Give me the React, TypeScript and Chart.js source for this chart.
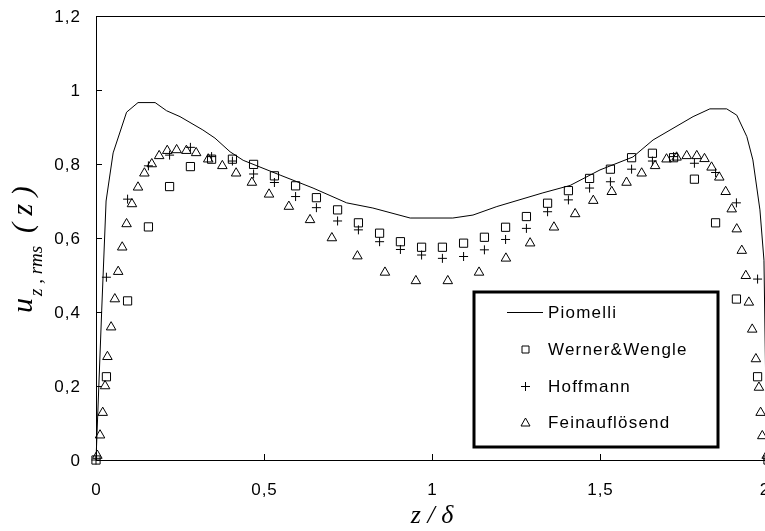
import React, { useEffect, useRef } from "react";
import { Chart, registerables } from "chart.js";

Chart.register(...registerables);

// ---- Data ----
const piomelliZ = [0, 0.017, 0.03, 0.051, 0.091, 0.125, 0.176, 0.21, 0.25, 0.318, 0.354, 0.399, 0.438, 0.548, 0.646, 0.746, 0.824, 0.935, 1.062, 1.122, 1.193, 1.33, 1.411, 1.5, 1.598, 1.658, 1.777, 1.827, 1.877, 1.907, 1.937, 1.955, 1.976, 1.988, 1.994, 2];
const piomelliU = [0, 0.405, 0.7, 0.83, 0.94, 0.966, 0.966, 0.944, 0.928, 0.892, 0.87, 0.833, 0.81, 0.77, 0.735, 0.695, 0.681, 0.654, 0.654, 0.662, 0.685, 0.722, 0.742, 0.784, 0.819, 0.865, 0.928, 0.949, 0.949, 0.932, 0.874, 0.811, 0.676, 0.54, 0.16, 0];

const wernerZ = [0, 0.031, 0.094, 0.156, 0.219, 0.281, 0.344, 0.406, 0.469, 0.531, 0.594, 0.656, 0.719, 0.781, 0.844, 0.906, 0.969, 1.031, 1.094, 1.156, 1.219, 1.281, 1.344, 1.406, 1.469, 1.531, 1.594, 1.656, 1.719, 1.781, 1.844, 1.906, 1.969, 2];
const wernerU = [0, 0.225, 0.43, 0.63, 0.739, 0.793, 0.813, 0.813, 0.799, 0.768, 0.741, 0.709, 0.676, 0.641, 0.613, 0.59, 0.575, 0.575, 0.586, 0.602, 0.629, 0.658, 0.694, 0.728, 0.761, 0.786, 0.817, 0.829, 0.817, 0.759, 0.641, 0.435, 0.225, 0];

const hoffmannZ = [0, 0.031, 0.094, 0.156, 0.219, 0.281, 0.344, 0.406, 0.469, 0.531, 0.594, 0.656, 0.719, 0.781, 0.844, 0.906, 0.969, 1.031, 1.094, 1.156, 1.219, 1.281, 1.344, 1.406, 1.469, 1.531, 1.594, 1.656, 1.719, 1.781, 1.844, 1.906, 1.969, 2];
const hoffmannU = [0, 0.494, 0.705, 0.795, 0.824, 0.845, 0.82, 0.808, 0.773, 0.75, 0.712, 0.682, 0.646, 0.622, 0.59, 0.569, 0.554, 0.545, 0.55, 0.568, 0.596, 0.626, 0.671, 0.703, 0.735, 0.752, 0.786, 0.808, 0.82, 0.802, 0.777, 0.695, 0.489, 0];

const feinZ = [0.004, 0.012, 0.02, 0.027, 0.034, 0.045, 0.056, 0.066, 0.078, 0.091, 0.107, 0.125, 0.144, 0.166, 0.188, 0.212, 0.24, 0.269, 0.298, 0.334, 0.376, 0.417, 0.464, 0.515, 0.574, 0.637, 0.702, 0.778, 0.86, 0.952, 1.047, 1.14, 1.22, 1.292, 1.363, 1.426, 1.48, 1.535, 1.579, 1.624, 1.664, 1.698, 1.728, 1.758, 1.788, 1.811, 1.832, 1.855, 1.874, 1.892, 1.907, 1.922, 1.934, 1.943, 1.953, 1.964, 1.973, 1.978, 1.983, 1.996];
const feinU = [0.012, 0.067, 0.128, 0.2, 0.279, 0.359, 0.435, 0.509, 0.575, 0.638, 0.692, 0.737, 0.775, 0.8, 0.822, 0.836, 0.838, 0.836, 0.83, 0.813, 0.795, 0.775, 0.75, 0.718, 0.685, 0.649, 0.6, 0.551, 0.507, 0.484, 0.484, 0.507, 0.545, 0.586, 0.629, 0.665, 0.701, 0.725, 0.75, 0.775, 0.795, 0.813, 0.818, 0.822, 0.822, 0.814, 0.791, 0.764, 0.725, 0.678, 0.624, 0.566, 0.498, 0.426, 0.353, 0.273, 0.196, 0.128, 0.065, 0.012];

const seriesNames = ["Piomelli", "Werner&Wengle", "Hoffmann", "Feinauflösend"];
const xTicks = [0, 0.5, 1, 1.5, 2];
const yTicks = [0, 0.2, 0.4, 0.6, 0.8, 1, 1.2];

const fmt = (v: number) => String(Number(v.toFixed(2))).replace(".", ",");
const pts = (zs: number[], us: number[]) => zs.map((z, i) => ({ x: z, y: us[i] }));

const SANS = "'Liberation Sans', Arial, sans-serif";
const SERIF = "'Liberation Serif', 'Times New Roman', serif";

const decorPlugin = {
  id: "decor",
  afterDraw(chart: any) {
    const ctx = chart.ctx as CanvasRenderingContext2D;
    const { left, right, top, bottom } = chart.chartArea;
    const xs = chart.scales.x;
    const ys = chart.scales.y;
    ctx.save();
    // frame
    ctx.strokeStyle = "#000";
    ctx.lineWidth = 1;
    ctx.strokeRect(Math.round(left) + 0.5, Math.round(top) + 0.5, Math.round(right - left), Math.round(bottom - top));
    // inner ticks
    ctx.beginPath();
    for (const v of yTicks) {
      const y = Math.round(ys.getPixelForValue(v)) + 0.5;
      ctx.moveTo(left, y);
      ctx.lineTo(left + 6, y);
    }
    for (const v of xTicks) {
      const x = Math.round(xs.getPixelForValue(v)) + 0.5;
      ctx.moveTo(x, bottom);
      ctx.lineTo(x, bottom - 6);
    }
    ctx.stroke();

    // tick labels
    ctx.fillStyle = "#000";
    ctx.font = `17px ${SANS}`;
    (ctx as any).letterSpacing = "1px";
    ctx.textBaseline = "middle";
    ctx.textAlign = "right";
    for (const v of yTicks) {
      ctx.fillText(fmt(v), 81, ys.getPixelForValue(v) + 1);
    }
    ctx.textAlign = "center";
    for (const v of xTicks) {
      const px = Math.min(xs.getPixelForValue(v) + 0.5, 765);
      ctx.fillText(fmt(v), px, 490);
    }
    (ctx as any).letterSpacing = "0px";

    // x title
    ctx.font = `italic 26px ${SERIF}`;
    ctx.textAlign = "center";
    ctx.textBaseline = "alphabetic";
    ctx.fillText("z / \u03B4", (left + right) / 2, 523);

    // y title (rotated)
    ctx.save();
    ctx.translate(32, 313);
    ctx.rotate(-Math.PI / 2);
    ctx.textAlign = "left";
    ctx.textBaseline = "alphabetic";
    ctx.font = `italic 30px ${SERIF}`;
    ctx.fillText("u", 0, 0);
    const uw = ctx.measureText("u").width;
    ctx.font = `italic 19px ${SERIF}`;
    ctx.fillText("z , rms", uw + 2, 10);
    ctx.font = `italic 30px ${SERIF}`;
    ctx.fillText("( z )", 80, 0);
    ctx.restore();

    // legend
    const bx = 474, by = 292, bw = 244, bh = 155;
    ctx.lineWidth = 3;
    ctx.fillStyle = "#fff";
    ctx.fillRect(bx, by, bw, bh);
    ctx.strokeStyle = "#000";
    ctx.strokeRect(bx, by, bw, bh);
    const rows = [312, 349, 386, 422];
    ctx.font = `17px ${SANS}`;
    (ctx as any).letterSpacing = "1.2px";
    ctx.textBaseline = "middle";
    ctx.textAlign = "left";
    ctx.fillStyle = "#000";
    ctx.lineWidth = 1;
    const mx = 525.5;
    rows.forEach((ry, i) => {
      ctx.beginPath();
      if (i === 0) {
        ctx.moveTo(507, ry + 0.5);
        ctx.lineTo(543, ry + 0.5);
      } else if (i === 1) {
        ctx.rect(mx - 3.5, ry - 3, 7, 7);
      } else if (i === 2) {
        ctx.moveTo(mx - 4.5, ry + 0.5);
        ctx.lineTo(mx + 4.5, ry + 0.5);
        ctx.moveTo(mx, ry - 4);
        ctx.lineTo(mx, ry + 5);
      } else {
        ctx.moveTo(mx, ry - 4);
        ctx.lineTo(mx + 4.5, ry + 4);
        ctx.lineTo(mx - 4.5, ry + 4);
        ctx.closePath();
      }
      ctx.stroke();
      ctx.fillText(seriesNames[i], 548, ry + 1);
    });
    (ctx as any).letterSpacing = "0px";
    ctx.restore();
  },
};

export default function App() {
  const ref = useRef<HTMLCanvasElement | null>(null);
  useEffect(() => {
    if (!ref.current) return;
    const markerCommon = {
      showLine: false,
      borderColor: "#000",
      backgroundColor: "rgba(0,0,0,0)",
      pointBorderColor: "#000",
      pointBackgroundColor: "rgba(0,0,0,0)",
      pointBorderWidth: 1,
      clip: false as any,
    };
    const chart = new Chart(ref.current, {
      type: "scatter",
      data: {
        datasets: [
          {
            label: seriesNames[0],
            type: "line",
            data: pts(piomelliZ, piomelliU),
            borderColor: "#000",
            borderWidth: 1,
            pointRadius: 0,
            tension: 0,
            fill: false,
            clip: false as any,
          } as any,
          { label: seriesNames[1], data: pts(wernerZ, wernerU), pointStyle: "rect", pointRadius: 5.8, ...markerCommon },
          { label: seriesNames[2], data: pts(hoffmannZ, hoffmannU), pointStyle: "cross", pointRadius: 4.5, ...markerCommon },
          { label: seriesNames[3], data: pts(feinZ, feinU), pointStyle: "triangle", pointRadius: 5.5, ...markerCommon },
        ],
      },
      options: {
        animation: false,
        responsive: false,
        devicePixelRatio: 1,
        layout: { padding: { left: 0, right: 22, top: 16, bottom: 0 } },
        plugins: { legend: { display: false }, tooltip: { enabled: false } },
        scales: {
          x: {
            type: "linear",
            min: 0,
            max: 2,
            afterFit: (s: any) => { s.height = 71; },
            afterBuildTicks: (s: any) => { s.ticks = xTicks.map((v) => ({ value: v })); },
            grid: { display: false, drawTicks: false },
            border: { display: false },
            ticks: { display: false },
          },
          y: {
            type: "linear",
            min: 0,
            max: 1.2,
            afterFit: (s: any) => { s.width = 96; },
            afterBuildTicks: (s: any) => { s.ticks = yTicks.map((v) => ({ value: v })); },
            grid: { display: false, drawTicks: false },
            border: { display: false },
            ticks: { display: false },
          },
        },
      },
      plugins: [decorPlugin],
    });
    return () => chart.destroy();
  }, []);
  return (
    <div style={{ position: "fixed", left: 0, top: 0, width: 765, height: 531, overflow: "hidden", background: "#fff" }}>
      <canvas ref={ref} width={790} height={531} style={{ display: "block", width: 790, height: 531 }} />
    </div>
  );
}
